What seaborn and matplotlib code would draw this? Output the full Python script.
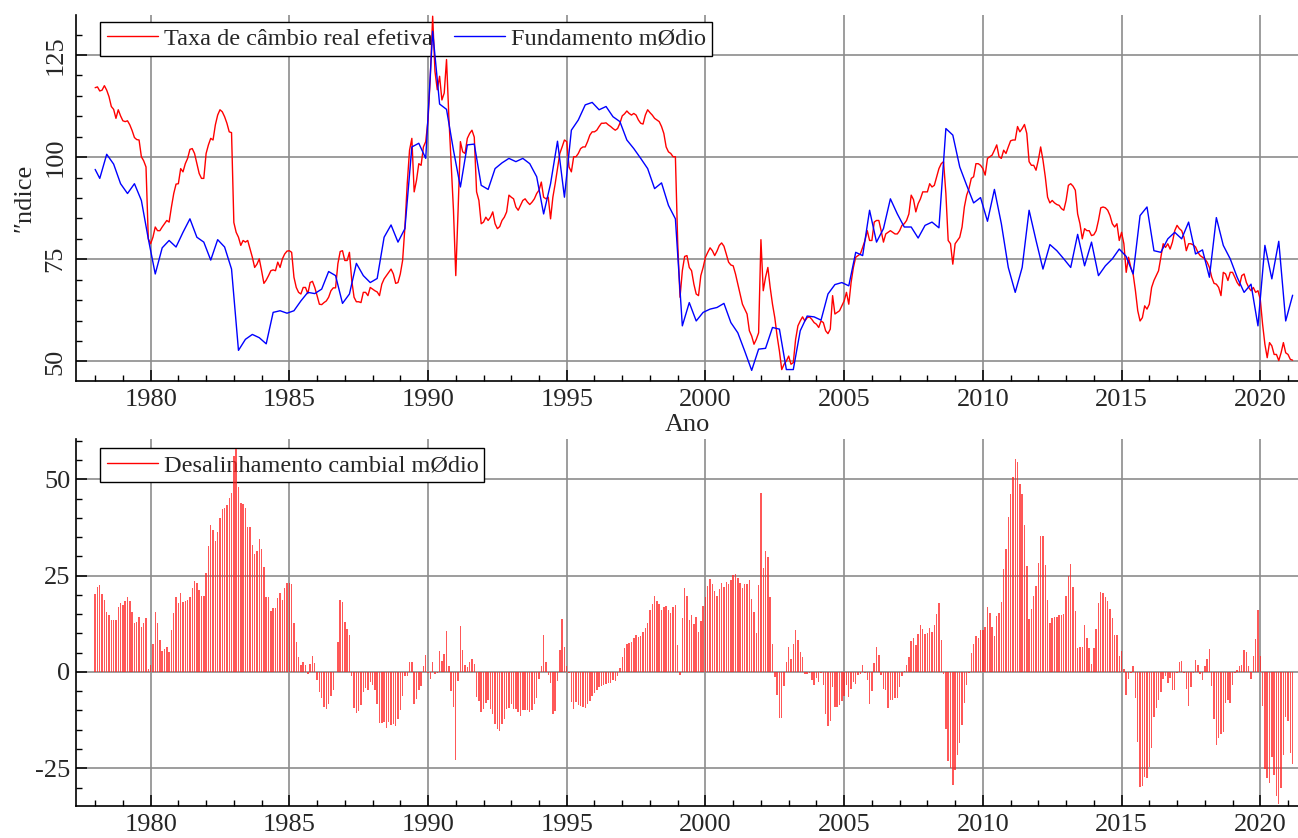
import numpy as np
import matplotlib
matplotlib.use('Agg')
import matplotlib.pyplot as plt
import seaborn as sns
from matplotlib.lines import Line2D
from matplotlib.ticker import MultipleLocator

# taxa de cambio real efetiva, mensal, jan/1978 em diante
taxa_real = [
    117.0, 117.2, 116.2, 116.4, 117.5, 116.4, 114.8, 112.4, 111.7, 109.5, 111.6, 110.1,
    108.9, 108.7, 108.9, 107.9, 106.5, 104.8, 104.3, 104.2, 100.1, 99.1, 97.6, 80.0,
    78.8, 80.4, 82.9, 82.0, 82.0, 82.9, 83.7, 84.5, 84.1, 87.8, 91.1, 93.4,
    93.5, 97.2, 96.4, 98.4, 99.7, 101.9, 102.1, 100.9, 98.4, 96.0, 94.8, 94.8,
    100.9, 103.0, 104.6, 104.2, 107.9, 110.3, 111.6, 111.1, 109.9, 108.3, 106.2, 106.0,
    84.0, 81.6, 80.4, 78.4, 79.6, 79.2, 79.6, 77.5, 75.5, 73.0, 73.8, 75.1,
    72.2, 69.1, 69.9, 71.0, 72.2, 72.4, 72.2, 74.3, 73.0, 75.1, 76.3, 77.0,
    77.1, 76.7, 70.6, 68.1, 66.9, 66.5, 68.1, 68.1, 66.6, 69.3, 69.6, 68.1,
    66.1, 64.0, 63.9, 64.4, 64.8, 65.7, 67.3, 68.0, 68.0, 73.9, 76.9, 77.1,
    74.7, 74.7, 76.7, 69.8, 65.7, 64.6, 64.6, 64.4, 66.9, 66.9, 66.1, 68.1,
    67.7, 67.3, 67.0, 66.1, 68.9, 70.2, 71.0, 71.8, 72.6, 71.4, 69.1, 69.3,
    71.4, 74.7, 82.9, 93.5, 101.7, 104.6, 91.5, 94.3, 98.4, 98.0, 102.5, 103.8,
    109.1, 119.8, 134.5, 121.0, 116.5, 119.8, 114.0, 115.7, 123.9, 109.9, 98.4, 87.0,
    71.0, 87.0, 103.8, 101.3, 100.9, 104.6, 105.8, 106.6, 104.9, 91.5, 89.4, 83.7,
    84.1, 85.3, 84.5, 85.3, 86.6, 83.7, 82.5, 83.0, 84.5, 85.3, 86.6, 90.7,
    90.2, 89.8, 87.8, 87.0, 88.2, 89.4, 89.8, 89.0, 88.4, 89.0, 89.8, 91.1,
    91.9, 93.9, 90.2, 89.8, 90.2, 84.9, 90.2, 93.5, 97.2, 100.9, 102.5, 104.2,
    103.8, 97.6, 96.4, 100.1, 100.1, 100.9, 102.1, 102.5, 102.5, 103.8, 105.4, 106.2,
    106.2, 106.6, 107.5, 108.3, 108.3, 108.4, 107.9, 107.5, 107.0, 106.6, 107.0, 108.3,
    110.1, 110.6, 111.3, 110.7, 110.3, 110.7, 110.3, 109.1, 108.3, 108.1, 110.3, 111.6,
    110.9, 110.3, 109.5, 109.1, 108.7, 107.5, 105.8, 102.5, 101.3, 100.9, 100.1, 100.1,
    79.0, 65.7, 72.2, 75.7, 75.9, 73.0, 72.2, 68.9, 66.5, 66.1, 71.0, 73.0,
    75.5, 76.7, 77.8, 77.1, 75.9, 77.0, 78.4, 79.0, 78.2, 76.3, 74.3, 73.6,
    73.4, 71.4, 68.9, 66.5, 64.0, 62.8, 61.6, 57.5, 56.2, 54.2, 55.4, 57.0,
    79.8, 67.3, 70.6, 73.0, 68.1, 64.0, 60.7, 56.2, 52.5, 48.0, 49.3, 50.1,
    51.3, 49.3, 49.7, 55.4, 58.7, 59.9, 60.9, 59.9, 60.7, 60.9, 60.3, 59.5,
    59.1, 58.3, 59.9, 59.5, 57.5, 56.8, 57.9, 66.1, 61.6, 62.0, 62.4, 63.6,
    64.8, 66.9, 64.0, 69.3, 73.0, 75.5, 75.9, 76.3, 77.9, 79.6, 82.0, 79.6,
    79.6, 84.1, 84.5, 84.5, 82.0, 79.2, 81.2, 81.6, 82.0, 81.6, 81.2, 81.2,
    82.0, 83.3, 83.7, 84.5, 86.1, 90.7, 89.6, 86.6, 88.6, 89.8, 91.5, 91.5,
    91.5, 93.5, 92.7, 93.1, 95.2, 97.2, 98.4, 98.9, 91.1, 79.6, 78.8, 73.8,
    78.8, 79.6, 80.4, 82.9, 87.8, 90.7, 92.3, 94.8, 95.2, 98.4, 98.4, 98.0,
    97.2, 95.6, 99.7, 100.1, 100.5, 101.7, 103.0, 100.1, 99.7, 101.7, 100.9, 102.5,
    104.0, 104.2, 104.2, 107.5, 106.2, 107.0, 108.0, 105.8, 98.9, 98.0, 98.0, 96.8,
    99.3, 102.5, 99.3, 95.2, 90.2, 88.8, 89.4, 88.8, 88.4, 88.2, 87.4, 87.0,
    89.4, 93.1, 93.5, 92.9, 91.9, 86.1, 83.7, 80.0, 82.5, 82.0, 82.0, 80.8,
    81.0, 82.0, 84.5, 87.6, 87.8, 87.6, 87.0, 85.7, 83.7, 82.9, 83.7, 79.6,
    81.6, 78.8, 71.8, 75.5, 73.0, 71.4, 67.3, 62.4, 59.9, 60.7, 63.6, 62.8,
    64.0, 68.1, 69.8, 71.0, 72.2, 75.5, 78.8, 77.9, 78.8, 77.5, 79.2, 82.0,
    83.3, 82.5, 82.0, 80.4, 77.1, 78.8, 78.8, 78.5, 78.0, 76.7, 75.9, 75.5,
    75.1, 74.3, 73.0, 70.6, 69.1, 68.9, 68.1, 66.1, 71.8, 71.4, 69.8, 71.8,
    71.8, 70.6, 69.3, 68.5, 71.0, 71.4, 69.3, 68.1, 67.3, 68.1, 66.9, 67.3,
    65.2, 59.1, 54.2, 50.9, 54.6, 53.8, 51.7, 51.7, 50.2, 52.1, 54.6, 52.1,
    51.7, 50.5, 50.3,
]

# fundamento medio: jan/1978, depois trimestral (mar/jun/set/dez)
fundamento = [
    97.0,
    94.8, 100.7, 98.3, 93.5,
    91.1, 93.5, 89.4, 80.0,
    71.4, 77.8, 79.6, 78.0,
    81.6, 84.9, 80.4, 79.2,
    74.8, 79.8, 78.0, 72.6,
    52.7, 55.4, 56.6, 55.8,
    54.3, 62.0, 62.4, 61.8,
    62.4, 64.8, 66.9, 66.6,
    67.7, 72.0, 71.0, 64.2,
    66.5, 74.0, 71.0, 69.3,
    70.3, 80.4, 83.4, 79.2,
    82.5, 102.5, 103.4, 99.7,
    130.8, 113.0, 111.7, 101.7,
    92.7, 103.0, 103.2, 93.1,
    92.1, 97.2, 98.6, 99.7,
    98.9, 99.7, 98.4, 95.2,
    86.1, 93.5, 103.9, 90.2,
    106.6, 109.1, 112.8, 113.4,
    111.6, 112.4, 109.9, 108.7,
    104.2, 102.1, 99.7, 97.2,
    92.3, 93.7, 88.2, 84.9,
    58.7, 64.4, 59.9, 62.0,
    62.8, 63.2, 64.2, 59.5,
    57.0, 52.5, 47.8, 53.0,
    53.2, 58.3, 57.9, 48.0,
    48.0, 57.5, 61.1, 60.9,
    60.1, 66.5, 68.8, 69.3,
    68.5, 76.7, 75.9, 87.0,
    79.2, 82.5, 89.8, 86.1,
    82.9, 82.9, 80.2, 83.3,
    84.1, 82.7, 107.0, 105.4,
    97.6, 93.1, 88.8, 90.1,
    84.3, 92.1, 83.7, 73.0,
    66.9, 73.0, 87.0, 79.6,
    72.6, 78.6, 77.1, 75.1,
    73.0, 81.1, 73.4, 79.2,
    71.0, 73.4, 75.1, 77.5,
    75.7, 71.4, 85.7, 87.8,
    77.1, 76.7, 80.0, 81.6,
    80.0, 84.1, 76.3, 77.3,
    70.6, 85.2, 78.4, 75.1,
    70.6, 66.9, 68.9, 58.7,
    78.4, 70.2, 79.4, 59.9,
    66.2,
]

# desalinhamento cambial medio (%), mensal, jan/1978 em diante
desalinhamento = [
    20.3, 22.0, 22.7, 20.2, 18.8, 15.7, 14.8, 13.6, 13.6, 13.4, 17.0, 17.8,
    17.5, 18.5, 19.5, 18.4, 15.7, 12.7, 13.0, 14.3, 11.7, 12.8, 14.1, 0.7,
    1.7, 7.2, 15.6, 12.8, 8.4, 5.4, 6.0, 6.6, 5.2, 10.8, 15.3, 19.4,
    17.8, 20.6, 18.1, 18.5, 18.6, 19.5, 21.9, 23.7, 23.0, 21.2, 19.7, 19.7,
    25.8, 32.6, 38.2, 36.9, 33.9, 36.3, 40.0, 42.2, 42.7, 43.3, 45.3, 46.5,
    56.0, 58.0, 48.0, 44.0, 43.5, 42.5, 37.7, 37.7, 33.0, 30.6, 31.5, 34.5,
    32.0, 27.2, 19.4, 19.4, 15.8, 16.7, 16.5, 19.2, 20.4, 18.8, 21.8, 23.0,
    23.2, 22.8, 12.7, 7.7, 4.0, 1.9, 2.6, 1.7, -0.4, 2.2, 4.1, 2.3,
    -2.0, -5.3, -6.7, -9.0, -9.7, -8.3, -6.3, -4.6, 0.0, 7.9, 18.7, 18.1,
    13.1, 11.2, 9.5, -1.0, -9.4, -10.7, -10.2, -8.7, -5.1, -4.1, -4.7, -2.6,
    -3.3, -4.7, -8.2, -13.2, -13.2, -12.9, -14.5, -12.9, -13.7, -13.4, -13.9, -12.3,
    -10.0, -6.3, -1.1, -1.1, 2.6, 2.5, -8.4, -7.0, -4.7, -3.7, 1.5, 4.4,
    -0.3, -1.8, 2.7, -0.4, -0.2, 5.5, 2.8, 4.7, 10.7, 1.6, -5.0, -9.0,
    -22.8, -2.4, 11.9, 5.8, 1.8, 1.3, 2.5, 3.4, 2.1, -6.5, -7.6, -10.4,
    -9.5, -8.0, -7.2, -9.6, -10.8, -13.4, -14.9, -15.4, -13.6, -12.3, -9.6, -9.3,
    -8.4, -9.6, -9.6, -10.4, -11.3, -10.0, -9.9, -9.9, -10.4, -9.9, -8.3, -6.7,
    -1.8, 1.5, 9.5, 2.5, -0.7, -2.9, -11.0, -10.2, -2.4, 5.8, 13.7, 6.5,
    1.5, -0.3, -7.8, -9.7, -7.8, -8.7, -8.9, -9.1, -9.3, -8.4, -7.6, -6.3,
    -5.4, -4.6, -3.9, -3.7, -3.3, -3.0, -2.8, -2.9, -2.2, -2.3, -1.1, 1.0,
    3.9, 6.1, 7.3, 7.5, 7.8, 8.9, 9.7, 9.2, 9.4, 10.3, 11.5, 12.8,
    16.1, 17.7, 19.7, 18.5, 17.7, 16.1, 16.8, 17.2, 16.1, 15.4, 17.0, 17.4,
    7.1, -0.9, 14.0, 21.7, 19.7, 13.4, 14.7, 12.5, 14.2, 10.5, 13.3, 17.2,
    19.6, 22.2, 24.1, 22.9, 20.9, 19.8, 21.6, 23.0, 22.1, 23.3, 22.8, 23.8,
    25.3, 25.5, 24.3, 23.2, 21.9, 22.8, 22.9, 23.9, 19.0, 15.7, 10.1, 22.6,
    46.6, 27.1, 31.3, 29.9, 19.6, 7.3, -1.3, -6.1, -11.9, -11.9, -3.7, 2.5,
    6.5, 3.5, 7.3, 10.9, 8.2, 5.1, 3.8, -0.4, -0.4, -0.2, -2.0, -3.4,
    -1.6, -2.6, -0.2, -3.4, -10.8, -14.1, -12.8, -3.9, -9.0, -9.0, -8.7, -7.6,
    -6.3, -3.3, -6.5, -4.3, -2.6, -3.0, -0.8, -0.5, 1.8, -0.2, -2.2, -8.2,
    -5.0, 2.3, 6.6, 4.5, -0.7, -4.3, -4.6, -9.3, -7.4, -7.4, -6.7, -6.7,
    -3.9, -1.1, 0.3, 1.8, 3.8, 8.0, 8.7, 6.9, 9.9, 12.1, 11.2, 9.8,
    10.1, 11.3, 10.5, 12.1, 15.1, 18.0, 8.2, -0.4, -14.7, -23.1, -25.0, -29.4,
    -25.4, -21.6, -18.5, -13.8, -8.0, -3.3, -0.3, 4.9, 7.3, 9.4, 8.8, 10.9,
    10.8, 11.6, 17.0, 15.3, 11.6, 9.4, 14.6, 15.4, 18.3, 26.7, 31.9, 40.3,
    46.1, 50.6, 55.2, 54.5, 48.7, 46.1, 38.1, 27.6, 13.7, 16.4, 19.7, 22.2,
    28.4, 35.3, 35.3, 27.8, 18.7, 12.8, 14.1, 14.2, 14.2, 14.8, 14.8, 15.1,
    19.7, 25.0, 28.0, 22.0, 15.9, 6.2, 6.6, 6.4, 12.1, 8.8, 6.1, 2.2,
    6.2, 11.1, 18.0, 20.8, 20.4, 19.6, 18.5, 16.3, 14.0, 9.7, 9.7, 4.1,
    5.5, 0.9, -5.9, -1.7, -0.3, 1.6, -6.7, -18.2, -29.8, -29.7, -27.2, -27.4,
    -24.7, -19.7, -11.6, -9.3, -7.4, -5.2, -1.8, -1.1, -2.8, -1.6, -4.6, -4.6,
    -0.2, 2.6, 2.9, -0.2, -4.3, -8.9, -3.9, -0.2, 3.2, 1.9, -0.4, -2.2,
    1.5, 3.4, 6.0, -3.7, -12.2, -19.0, -17.1, -16.0, -15.5, -8.0, -7.3, -8.0,
    -3.3, -0.2, 0.6, 1.5, 1.7, 5.6, 5.3, 1.5, -1.7, 4.1, 8.5, 16.1,
    4.1, -8.9, -25.3, -27.4, -28.7, -22.2, -26.8, -32.3, -34.3, -30.0, -21.6, -11.7,
    -12.8, -21.1, -23.8,
]

ano_inicial = 1978
t_taxa = ano_inicial + np.arange(len(taxa_real)) / 12
t_fund = np.concatenate([[ano_inicial],
                         ano_inicial + (2 + 3 * np.arange(len(fundamento) - 1)) / 12])
t_desal = ano_inicial + np.arange(len(desalinhamento)) / 12

sns.set_theme(style='white')
plt.rcParams['font.family'] = ['Liberation Serif', 'DejaVu Serif']
plt.rcParams['axes.unicode_minus'] = False

W, H = 1298, 838
fig = plt.figure(figsize=(W / 100, H / 100), dpi=100)
ax1 = fig.add_axes([76 / W, 1 - 381 / H, 1222 / W, 366 / H])
ax2 = fig.add_axes([76 / W, 1 - 806 / H, 1222 / W, 367 / H])

sns.lineplot(x=t_taxa, y=taxa_real, ax=ax1, color='#ff0000', lw=1.0,
             label='Taxa de câmbio real efetiva', zorder=3)
sns.lineplot(x=t_fund, y=fundamento, ax=ax1, color='#0000ff', lw=1.0,
             label='Fundamento mØdio', zorder=3)
ax2.bar(t_desal, desalinhamento, width=0.052, color='#ff2020', alpha=0.75,
        linewidth=0, zorder=3)

grid_kw = dict(color='#8c8c8c', lw=1.2)
for ax in (ax1, ax2):
    ax.set_xlim(1977.31, 2021.36)
    ax.xaxis.set_major_locator(MultipleLocator(5))
    ax.xaxis.set_minor_locator(MultipleLocator(1))
    ax.yaxis.set_minor_locator(MultipleLocator(5))
    ax.grid(True, which='major', **grid_kw)
    ax.set_axisbelow(True)
    for s in ('top', 'right'):
        ax.spines[s].set_visible(False)
    for s in ('left', 'bottom'):
        ax.spines[s].set_color('black')
        ax.spines[s].set_linewidth(1.2)
    ax.tick_params(which='major', direction='in', length=8, width=1.1,
                   color='black', labelsize=19, left=True, bottom=True)
    ax.tick_params(which='minor', direction='in', length=4, width=1.0,
                   color='black', left=True, bottom=True)
    ax.tick_params(axis='x', pad=6)

ax1.set_ylim(45.2, 134.8)
ax1.set_yticks([50, 75, 100, 125])
ax1.set_yticklabels(['50', '75', '100', '125'], rotation=90, va='center')
ax1.tick_params(axis='y', pad=7)
ax1.set_xlabel('Ano', fontsize=19, labelpad=2)
ax1.set_ylabel('″ndice', fontsize=19, labelpad=6)

ax2.set_ylim(-34.8, 60.5)
ax2.set_yticks([-25, 0, 25, 50])
ax2.set_yticklabels(['-25', '0', '25', '50'])
ax2.tick_params(axis='y', pad=4)
ax2.set_xlabel('')
ax2.set_ylabel('')

# legendas abaixo das curvas, como no original
leg1 = ax1.legend(loc='upper left', bbox_to_anchor=(0.02, 0.982), ncol=2,
                  frameon=True, fancybox=False, edgecolor='black', framealpha=1,
                  borderaxespad=0, handlelength=2.1, handletextpad=0.25,
                  columnspacing=0.9, borderpad=0.25, fontsize=17.5)
leg1.get_frame().set_linewidth(1.0)
leg1.set_zorder(2)

handle = Line2D([0], [0], color='#ff0000', lw=1.0)
leg2 = ax2.legend([handle], ['Desalinhamento cambial mØdio'], loc='upper left',
                  bbox_to_anchor=(0.02, 0.975), frameon=True, fancybox=False,
                  edgecolor='black', framealpha=1, borderaxespad=0,
                  handlelength=2.1, handletextpad=0.25, borderpad=0.25, fontsize=17.5)
leg2.get_frame().set_linewidth(1.0)
leg2.set_zorder(2)

fig.savefig('out.png', dpi=100)
